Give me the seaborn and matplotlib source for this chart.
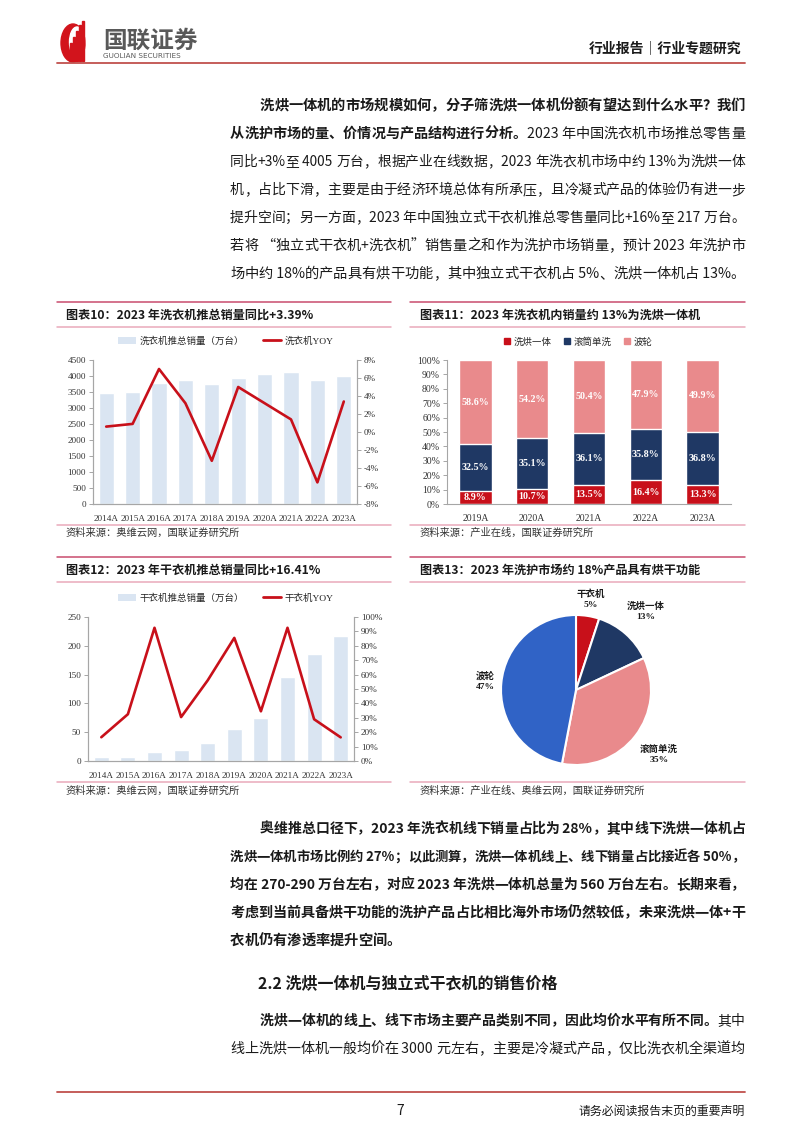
import numpy as np
import pandas as pd
import matplotlib
matplotlib.use("Agg")
import matplotlib.pyplot as plt
import seaborn as sns
from matplotlib.lines import Line2D
from matplotlib.patches import Patch, Ellipse, Rectangle
from matplotlib.font_manager import FontProperties

# ---------------- data ----------------
years = ["2014A", "2015A", "2016A", "2017A", "2018A", "2019A", "2020A", "2021A", "2022A", "2023A"]
washer_sales = [3480, 3500, 3780, 3880, 3750, 3930, 4050, 4120, 3880, 4005]
washer_yoy = [0.6, 0.9, 7.0, 3.2, -3.2, 5.0, 3.2, 1.4, -5.6, 3.39]

dryer_sales = [6.4, 7.5, 15, 19.5, 30.5, 56, 75.5, 145.5, 186.5, 217]
dryer_yoy = [16.5, 32.5, 92.5, 30.5, 56, 85.5, 34.5, 92.5, 29, 16.41]

struct_years = ["2019A", "2020A", "2021A", "2022A", "2023A"]
washer_dryer = [8.9, 10.7, 13.5, 16.4, 13.3]
drum_wash = [32.5, 35.1, 36.1, 35.8, 36.8]
impeller = [58.6, 54.2, 50.4, 47.9, 49.9]
struct_names = ["洗烘一体", "滚筒单洗", "波轮"]

pie_names = ["干衣机", "洗烘一体", "滚筒单洗", "波轮"]
pie_shares = [5, 13, 35, 47]

left_ticks_10 = list(range(0, 4501, 500))
right_ticks_10 = list(range(-8, 9, 2))
left_ticks_12 = list(range(0, 251, 50))
right_ticks_12 = list(range(0, 101, 10))
ticks_11 = list(range(0, 101, 10))

# ---------------- style ----------------
sns.set_theme(style="white")
CJK = "Noto Sans CJK SC"
plt.rcParams["font.family"] = [CJK, "DejaVu Sans"]
plt.rcParams["axes.unicode_minus"] = False
SERIF = ["Liberation Serif", CJK]

BAR_BLUE = "#DAE5F2"
RED = "#C8101A"
NAVY = "#1F3864"
PINK = "#E98A8C"
PIE_BLUE = "#3063C6"
GRID_GRAY = "#A6A6A6"
TXT = "#1a1a1a"
SEP_DARK = "#C94B6D"
SEP_LIGHT = "#E9A9BA"

W, H = 802, 1133
fig = plt.figure(figsize=(W / 100, H / 100), dpi=100)
fig.patch.set_facecolor("white")
renderer = fig.canvas.get_renderer()


def fx(x):
    return x / W


def fy(y):
    return 1 - y / H


def ax_at(l, t, r, b):
    return fig.add_axes([fx(l), fy(b), (r - l) / W, (b - t) / H])


def hline(y, x0, x1, color, lw=1.0):
    fig.add_artist(Line2D([fx(x0), fx(x1)], [fy(y), fy(y)], transform=fig.transFigure,
                          color=color, lw=lw))


def tokenize(s):
    toks, buf = [], ""
    for ch in s:
        if ord(ch) > 0x2E80 or ch in "“”":
            if buf:
                toks.append(buf)
                buf = ""
            toks.append(ch)
        else:
            buf += ch
    if buf:
        toks.append(buf)
    return toks


RIGHT_EDGE = 745


def body_line(x, y, parts, size=10.27, justify=True):
    items = []
    for s, w in parts:
        for tok in tokenize(s):
            t = fig.text(fx(x), fy(y), tok, fontsize=size, fontweight=w, family=CJK,
                         va="center", ha="left", color=TXT)
            items.append(t)
    widths = [t.get_window_extent(renderer).width for t in items]
    total = sum(widths)
    target = RIGHT_EDGE - x
    gap = 0.0
    if total > target:
        k = target / total
        for t in items:
            t.set_fontsize(size * k)
        widths = [wd * k for wd in widths]
    elif justify and len(items) > 1:
        gap = (target - total) / (len(items) - 1)
    cx = x
    for t, wd in zip(items, widths):
        t.set_x(fx(cx))
        cx += wd + gap


# ---------------- header ----------------
logo = ax_at(58, 20, 100, 64)
logo.set_xlim(0, 42)
logo.set_ylim(44, 0)
logo.axis("off")
logo.add_patch(Ellipse((15, 23), 24, 38, color="#D2141C"))
logo.add_patch(Ellipse((19, 22), 15, 30, color="white"))
for hx, hh in [(12, 18), (15, 24), (18, 30), (21, 36), (24, 40)]:
    logo.add_patch(Rectangle((hx, 41 - hh), 1.6, hh, color="#D2141C"))
fig.text(fx(103), fy(41), "国联证券", fontsize=17, fontweight="bold", color="#595959",
         family=CJK, va="center", ha="left")
fig.text(fx(103), fy(56), "GUOLIAN SECURITIES", fontsize=5.2, color="#595959",
         family="DejaVu Sans", va="center", ha="left")
fig.text(fx(741), fy(48), "行业报告｜行业专题研究", fontsize=10, fontweight="bold",
         color=TXT, family=CJK, va="center", ha="right")
hline(63, 57, 745, "#C0504D", 1.3)

# ---------------- paragraph 1 ----------------
p1 = [
    (260, [("洗烘一体机的市场规模如何，分子筛洗烘一体机份额有望达到什么水平？我们", "bold")]),
    (230, [("从洗护市场的量、价情况与产品结构进行分析。", "bold"), ("2023 年中国洗衣机市场推总零售量", "normal")]),
    (230, [("同比+3%至 4005 万台，根据产业在线数据，2023 年洗衣机市场中约 13%为洗烘一体", "normal")]),
    (230, [("机，占比下滑，主要是由于经济环境总体有所承压，且冷凝式产品的体验仍有进一步", "normal")]),
    (230, [("提升空间；另一方面，2023 年中国独立式干衣机推总零售量同比+16%至 217 万台。", "normal")]),
    (230, [("若将 “独立式干衣机+洗衣机”销售量之和作为洗护市场销量，预计 2023 年洗护市", "normal")]),
    (230, [("场中约 18%的产品具有烘干功能，其中独立式干衣机占 5%、洗烘一体机占 13%。", "normal")]),
]
for i, (x, parts) in enumerate(p1):
    body_line(x, 106 + 28 * i, parts, justify=(i < len(p1) - 1))

# ---------------- chart block separators / titles ----------------
for (x0, x1) in [(57, 391), (410, 745)]:
    hline(302, x0, x1, SEP_DARK, 1.1)
    hline(327, x0, x1, SEP_LIGHT, 1.1)
    hline(525, x0, x1, SEP_LIGHT, 1.1)
    hline(557, x0, x1, SEP_DARK, 1.1)
    hline(582, x0, x1, SEP_LIGHT, 1.1)
    hline(782, x0, x1, SEP_LIGHT, 1.1)

title_kw = dict(fontsize=8.7, fontweight="bold", color=TXT, family=CJK, va="center", ha="left")
fig.text(fx(66), fy(315), "图表10：2023 年洗衣机推总销量同比+3.39%", **title_kw)
fig.text(fx(420), fy(315), "图表11：2023 年洗衣机内销量约 13%为洗烘一体机", **title_kw)
fig.text(fx(66), fy(570), "图表12：2023 年干衣机推总销量同比+16.41%", **title_kw)
fig.text(fx(420), fy(570), "图表13：2023 年洗护市场约 18%产品具有烘干功能", **title_kw)

src_kw = dict(fontsize=7.4, color="#333333", family=CJK, va="center", ha="left")
fig.text(fx(66), fy(533), "资料来源：奥维云网，国联证券研究所", **src_kw)
fig.text(fx(420), fy(533), "资料来源：产业在线，国联证券研究所", **src_kw)
fig.text(fx(66), fy(791), "资料来源：奥维云网，国联证券研究所", **src_kw)
fig.text(fx(420), fy(791), "资料来源：产业在线、奥维云网，国联证券研究所", **src_kw)


def style_tick_labels(ax, size=6.6):
    for lab in ax.get_xticklabels() + ax.get_yticklabels():
        lab.set_fontfamily(SERIF)
        lab.set_fontsize(size)
        lab.set_color("#333333")


def combo_chart(box, sales, yoy, lticks, rticks, ylabel_fmt, legend_y, names):
    ax = ax_at(*box)
    df = pd.DataFrame({"year": years, "sales": sales})
    sns.barplot(data=df, x="year", y="sales", color=BAR_BLUE, saturation=1, width=0.57, ax=ax)
    ax.set_ylim(lticks[0], lticks[-1])
    ax.set_yticks(lticks)
    ax.set_yticklabels([str(v) for v in lticks])
    ax.set_xlabel("")
    ax.set_ylabel("")
    ax2 = ax.twinx()
    sns.lineplot(x=np.arange(len(years)), y=yoy, color=RED, lw=1.9, ax=ax2)
    ax2.set_ylim(rticks[0], rticks[-1])
    ax2.set_yticks(rticks)
    ax2.set_yticklabels([ylabel_fmt.format(v) for v in rticks])
    ax2.set_ylabel("")
    ax.set_xlim(-0.5, len(years) - 0.5)
    for a in (ax, ax2):
        a.spines["top"].set_visible(False)
        for s in ("left", "right", "bottom"):
            a.spines[s].set_color(GRID_GRAY)
            a.spines[s].set_linewidth(0.8)
    ax.tick_params(axis="y", left=True, length=3, width=0.7, color=GRID_GRAY, pad=2)
    ax.tick_params(axis="x", bottom=False, pad=2)
    ax2.tick_params(axis="y", right=True, length=3, width=0.7, color=GRID_GRAY, pad=2)
    style_tick_labels(ax)
    style_tick_labels(ax2)
    handles = [Patch(facecolor=BAR_BLUE, edgecolor="none"), Line2D([], [], color=RED, lw=2)]
    fig.legend(handles, names, loc="center", bbox_to_anchor=(fx(226), fy(legend_y)), ncol=2,
               frameon=False, prop=FontProperties(family=SERIF, size=6.8), handlelength=1.9,
               handleheight=0.8, columnspacing=2.0, handletextpad=0.4)
    return ax, ax2


combo_chart((93, 360, 357, 504), washer_sales, washer_yoy, left_ticks_10, right_ticks_10,
            "{}%", 341, ["洗衣机推总销量（万台）", "洗衣机YOY"])
combo_chart((88, 617, 354, 761), dryer_sales, dryer_yoy, left_ticks_12, right_ticks_12,
            "{}%", 598, ["干衣机推总销量（万台）", "干衣机YOY"])

# ---------------- chart 11: stacked structure ----------------
ax = ax_at(447, 360, 731, 504)
wd = np.array(washer_dryer)
dr = np.array(drum_wash)
im = np.array(impeller)
layers = [(wd + dr + im, PINK), (wd + dr, NAVY), (wd, RED)]
for vals, col in layers:
    sns.barplot(x=struct_years, y=vals, color=col, saturation=1, width=0.57, ax=ax)
ax.set_ylim(0, 100)
ax.set_xlim(-0.5, len(struct_years) - 0.5)
ax.set_yticks(ticks_11)
ax.set_yticklabels([f"{v}%" for v in ticks_11])
for s in ("top", "right"):
    ax.spines[s].set_visible(False)
for s in ("left", "bottom"):
    ax.spines[s].set_color(GRID_GRAY)
    ax.spines[s].set_linewidth(0.8)
ax.tick_params(axis="y", left=True, length=3, width=0.7, color=GRID_GRAY, pad=2)
ax.tick_params(axis="x", bottom=False, pad=1)
style_tick_labels(ax, 7)
lab_kw = dict(ha="center", va="center", color="white", fontweight="bold", fontsize=7.2,
              family="Liberation Serif")
for i in range(len(struct_years)):
    ax.text(i, wd[i] / 2, f"{wd[i]:.1f}%", **lab_kw)
    ax.text(i, wd[i] + dr[i] / 2, f"{dr[i]:.1f}%", **lab_kw)
    ax.text(i, wd[i] + dr[i] + im[i] / 2, f"{im[i]:.1f}%", **lab_kw)
handles = [Line2D([], [], marker="s", ls="", color=c, markersize=4) for c in (RED, NAVY, PINK)]
fig.legend(handles, struct_names, loc="center", bbox_to_anchor=(fx(578), fy(342)), ncol=3,
           frameon=False, prop=FontProperties(family=CJK, size=6.8), handlelength=0.8,
           columnspacing=1.2, handletextpad=0.3)

# ---------------- chart 13: pie ----------------
axp = ax_at(501, 615, 651, 765)
wedges, _ = axp.pie(pie_shares, colors=[RED, NAVY, PINK, PIE_BLUE], startangle=90,
                    counterclock=False, wedgeprops=dict(edgecolor="white", linewidth=1.5))
axp.set_xlim(-1, 1)
axp.set_ylim(-1, 1)
axp.set_aspect("equal")
label_dist = [1.23, 1.40, 1.40, 1.22]
for w, name, share, d in zip(wedges, pie_names, pie_shares, label_dist):
    ang = np.deg2rad((w.theta1 + w.theta2) / 2)
    axp.text(d * np.cos(ang), d * np.sin(ang), f"{name}\n{share}%", ha="center", va="center",
             fontsize=6.8, fontweight="bold", family=SERIF, color=TXT, linespacing=1.3)

# ---------------- paragraph 2 ----------------
p2 = [
    (260, "奥维推总口径下，2023 年洗衣机线下销量占比为 28%，其中线下洗烘一体机占"),
    (230, "洗烘一体机市场比例约 27%；以此测算，洗烘一体机线上、线下销量占比接近各 50%，"),
    (230, "均在 270-290 万台左右，对应 2023 年洗烘一体机总量为 560 万台左右。长期来看，"),
    (230, "考虑到当前具备烘干功能的洗护产品占比相比海外市场仍然较低，未来洗烘一体+干"),
    (230, "衣机仍有渗透率提升空间。"),
]
for i, (x, s) in enumerate(p2):
    body_line(x, 829 + 28 * i, [(s, "bold")], justify=(i < len(p2) - 1))

fig.text(fx(258), fy(983), "2.2 洗烘一体机与独立式干衣机的销售价格", fontsize=11.5,
         fontweight="bold", color=TXT, family=CJK, va="center", ha="left")

body_line(260, 1021, [("洗烘一体机的线上、线下市场主要产品类别不同，因此均价水平有所不同。", "bold"),
                      ("其中", "normal")])
body_line(230, 1049, [("线上洗烘一体机一般均价在 3000 元左右，主要是冷凝式产品，仅比洗衣机全渠道均", "normal")])

# ---------------- footer ----------------
hline(1092, 57, 745, "#C0504D", 1.3)
fig.text(fx(400), fy(1111), "7", fontsize=10, color=TXT, family=CJK, va="center", ha="center")
fig.text(fx(745), fy(1111), "请务必阅读报告末页的重要声明", fontsize=8.6, color=TXT, family=CJK,
         va="center", ha="right")

fig.savefig("out.png", dpi=100)
